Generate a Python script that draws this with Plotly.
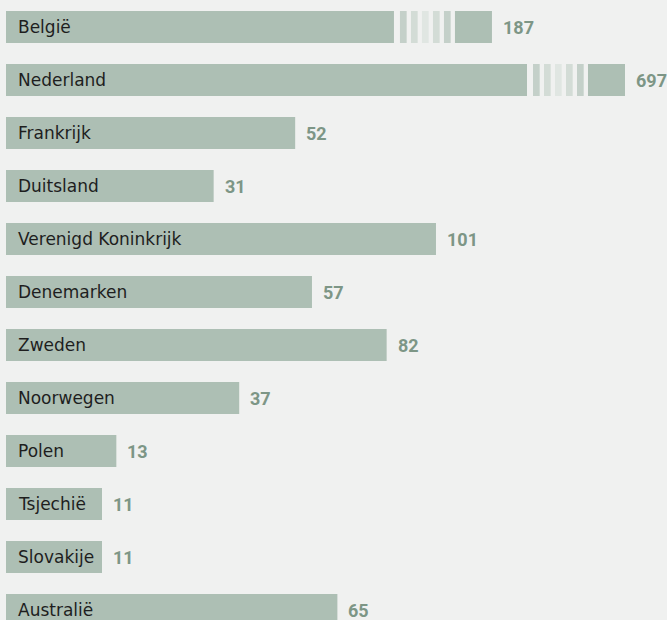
import math
import plotly.graph_objects as go

# ---- data ----
countries = ["België", "Nederland", "Frankrijk", "Duitsland", "Verenigd Koninkrijk",
             "Denemarken", "Zweden", "Noorwegen", "Polen", "Tsjechië", "Slovakije", "Australië"]
values = [187, 697, 52, 31, 101, 57, 82, 37, 13, 11, 11, 65]
value_labels = [str(v) for v in values]

# ---- scale settings ----
SQRT_OFFSET = 1.381          # bars drawn on a square-root scale
BREAK_THRESHOLD = 150        # values above this are drawn with an axis break
LOG_A, LOG_B = -0.866, 2.0385  # compressed (log) scale beyond the break
PX = 1 / 49.6                # one pixel in axis units

BAR_COLOR = "#adbfb4"
STRIPE_COLORS = ["#c4d0c9", "#d3dcd6", "#e0e6e2", "#d3dcd6", "#c4d0c9"]
VALUE_COLOR = "#7d9686"
BG = "#f0f1f0"


def display_len(v):
    if v > BREAK_THRESHOLD:
        return LOG_A + LOG_B * math.log(v)
    return math.sqrt(v) - SQRT_OFFSET


idx = list(range(len(countries)))
ends = [display_len(v) for v in values]
broken = [v > BREAK_THRESHOLD for v in values]

BREAK_LEN = 98 * PX
STUB_LEN = 37 * PX
STRIPE_OFFSETS = [6, 17, 28, 39, 50]
STRIPE_W = 6.7 * PX

main_len = [e - BREAK_LEN if b else e for e, b in zip(ends, broken)]

fig = go.Figure()
BW = 32 / 53

fig.add_trace(go.Bar(y=idx, x=main_len, base=0, orientation="h", width=BW,
                     marker=dict(color=BAR_COLOR, line=dict(width=0)),
                     hoverinfo="skip", showlegend=False))

b_idx = [i for i in idx if broken[i]]
for k, off in enumerate(STRIPE_OFFSETS):
    fig.add_trace(go.Bar(y=b_idx, x=[STRIPE_W] * len(b_idx),
                         base=[main_len[i] + off * PX for i in b_idx],
                         orientation="h", width=BW,
                         marker=dict(color=STRIPE_COLORS[k], line=dict(width=0)),
                         hoverinfo="skip", showlegend=False))
fig.add_trace(go.Bar(y=b_idx, x=[STUB_LEN] * len(b_idx),
                     base=[ends[i] - STUB_LEN for i in b_idx],
                     orientation="h", width=BW,
                     marker=dict(color=BAR_COLOR, line=dict(width=0)),
                     hoverinfo="skip", showlegend=False))

annotations = []
for i in idx:
    annotations.append(dict(x=0, y=i, text=countries[i], showarrow=False,
                            xanchor="left", yanchor="middle", xshift=10,
                            font=dict(family="DejaVu Sans", size=17, color="#1e1e1e")))
    annotations.append(dict(x=ends[i], y=i, text="<b>" + value_labels[i] + "</b>", showarrow=False,
                            xanchor="left", yanchor="middle", xshift=9,
                            font=dict(family="Roboto", size=18, color=VALUE_COLOR)))

fig.update_layout(
    width=667, height=620,
    margin=dict(l=0, r=0, t=0, b=0),
    paper_bgcolor=BG, plot_bgcolor=BG,
    barmode="overlay",
    xaxis=dict(range=[-6 * PX, 661 * PX], visible=False, fixedrange=True),
    yaxis=dict(range=[(620 - 27) / 53, -27 / 53], visible=False, fixedrange=True),
    annotations=annotations,
)

fig.write_html("out.html", config={"displayModeBar": False},
               post_script="document.body.style.margin='0';document.body.style.background='%s';" % BG)
